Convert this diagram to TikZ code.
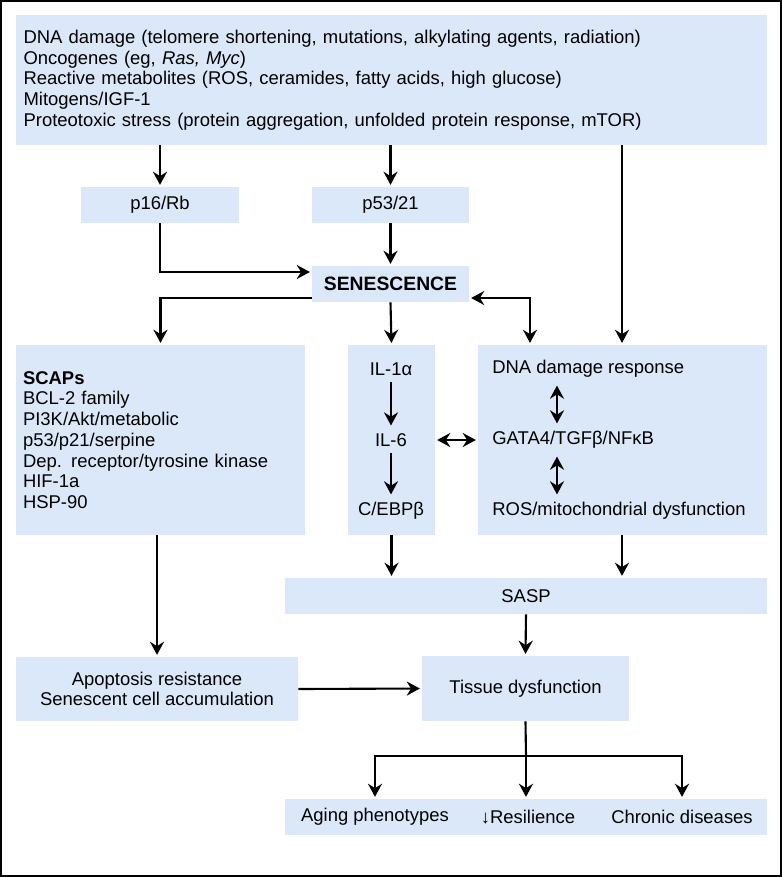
\documentclass[tikz,border=0pt]{standalone}
\usepackage{fontspec}
\setmainfont{Liberation Sans}
\usetikzlibrary{arrows.meta}
\definecolor{boxblue}{RGB}{219,232,250}
\begin{document}
\begin{tikzpicture}[
        x=0.02cm, y=-0.02cm,
        font=\fontsize{10.5}{11.8}\selectfont,
        box/.style={
            rectangle,
            fill=boxblue,
            inner sep=0pt,
            align=center
        },
        arr/.style={
            -{Stealth[length=7.5pt,width=8pt,inset=2.5pt]},
            line width=1.2pt,
            shorten >=1pt
        },
        darr/.style={
            {Stealth[length=7.5pt,width=8pt,inset=2.5pt]}-{Stealth[length=7.5pt,width=8pt,inset=2.5pt]},
            line width=1.2pt,
            shorten >=1pt, shorten <=1pt
        }
    ]
        % Frame
        \useasboundingbox (0,0) rectangle (782,877);
        \draw[line width=0.8pt] (1,1) rectangle (781,876);

        % Boxes
        \node[box, minimum width=15.02cm, minimum height=2.6cm, text width=14.72cm, align=left] (causes) at (391.5,80)
            {DNA damage (telomere shortening, mutations, alkylating agents, radiation)\\
             Oncogenes (eg, \textit{Ras, Myc})\\
             Reactive metabolites (ROS, ceramides, fatty acids, high glucose)\\
             Mitogens/IGF-1\\
             Proteotoxic stress (protein aggregation, unfolded protein response, mTOR)};
        \node[box, minimum width=3.16cm, minimum height=0.72cm] (p16) at (160,205) {p16/Rb};
        \node[box, minimum width=3.14cm, minimum height=0.72cm] (p53) at (390.5,205) {p53/21};
        \node[box, minimum width=3.14cm, minimum height=0.72cm, font=\fontsize{11}{13}\selectfont\bfseries] (sen) at (390.5,284) {SENESCENCE};
        \node[box, minimum width=5.78cm, minimum height=3.8cm, text width=5.5cm, align=left] (scaps) at (160.5,440)
            {\textbf{SCAPs}\\
             BCL-2 family\\
             PI3K/Akt/metabolic\\
             p53/p21/serpine\\
             Dep. receptor/tyrosine kinase\\
             HIF-1a\\
             HSP-90};
        \node[box, minimum width=1.74cm, minimum height=3.8cm] (il) at (391.5,440) {};
        \node[box, minimum width=5.78cm, minimum height=3.8cm] (ddr) at (622.5,440) {};
        \node[box, minimum width=9.64cm, minimum height=0.72cm] (sasp) at (526,596) {SASP};
        \node[box, minimum width=5.64cm, minimum height=1.28cm] (apop) at (157,689)
            {Apoptosis resistance\\Senescent cell accumulation};
        \node[box, minimum width=4.14cm, minimum height=1.3cm] (tissue) at (525.5,688.5) {Tissue dysfunction};
        \node[box, minimum width=9.64cm, minimum height=0.72cm] (out) at (526,817) {};

        % Texts inside boxes
        \node (il1) at (391,369) {IL-1α};
        \node (il6) at (391,440) {IL-6};
        \node (cebp) at (391,511) {C/EBPβ};
        \node[anchor=west, inner xsep=0pt] (dam) at (492,369) {DNA damage response};
        \node[anchor=west, inner xsep=0pt] (gata) at (492,440) {GATA4/TGFβ/NFκB};
        \node[anchor=west, inner xsep=0pt] (ros) at (492,511) {ROS/mitochondrial dysfunction};
        \node (aging) at (375,817) {Aging phenotypes};
        \node (resil) at (528,817) {↓Resilience};
        \node (chronic) at (682,817) {Chronic diseases};
        \coordinate (branch) at (526,756);

        % Arrows
        \draw[arr] (causes.south -| p16) -- (p16.north);
        \draw[arr] (causes.south -| p53) -- (p53.north);
        \draw[arr] (causes.south -| 622,0) -- (ddr.north -| 622,0);
        \draw[arr] (p16.south) |- ([yshift=0.24cm]sen.west);
        \draw[arr] (p53.south) -- (sen.north);
        \draw[arr] ([yshift=-0.28cm]sen.west) -| (scaps.north);
        \draw[arr] (sen.south) -- (il.north);
        \draw[darr] (ddr.north -| 530,0) |- ([yshift=-0.28cm]sen.east);
        \draw[arr] (il1) -- (il6);
        \draw[arr] (il6) -- (cebp);
        \draw[darr] ([xshift=1.3cm]dam.south west) -- ([xshift=1.3cm]gata.north west);
        \draw[darr] ([xshift=1.3cm]gata.south west) -- ([xshift=1.3cm]ros.north west);
        \draw[darr] (il.east |- il6) -- (ddr.west |- gata);
        \draw[arr] (scaps.south -| apop) -- (apop.north);
        \draw[arr] (il.south) -- (sasp.north -| il);
        \draw[arr] (ddr.south -| 622,0) -- (sasp.north -| 622,0);
        \draw[arr] (sasp.south) -- (tissue.north);
        \draw[arr] (apop.east) -- (tissue.west);
        \draw[line width=1.2pt] (tissue.south) -- (branch);
        \draw[arr] (branch) -| (aging.north |- out.north);
        \draw[arr] (branch) -| (chronic.north |- out.north);
        \draw[arr] (branch) -- (out.north);
    \end{tikzpicture}
\end{document}
